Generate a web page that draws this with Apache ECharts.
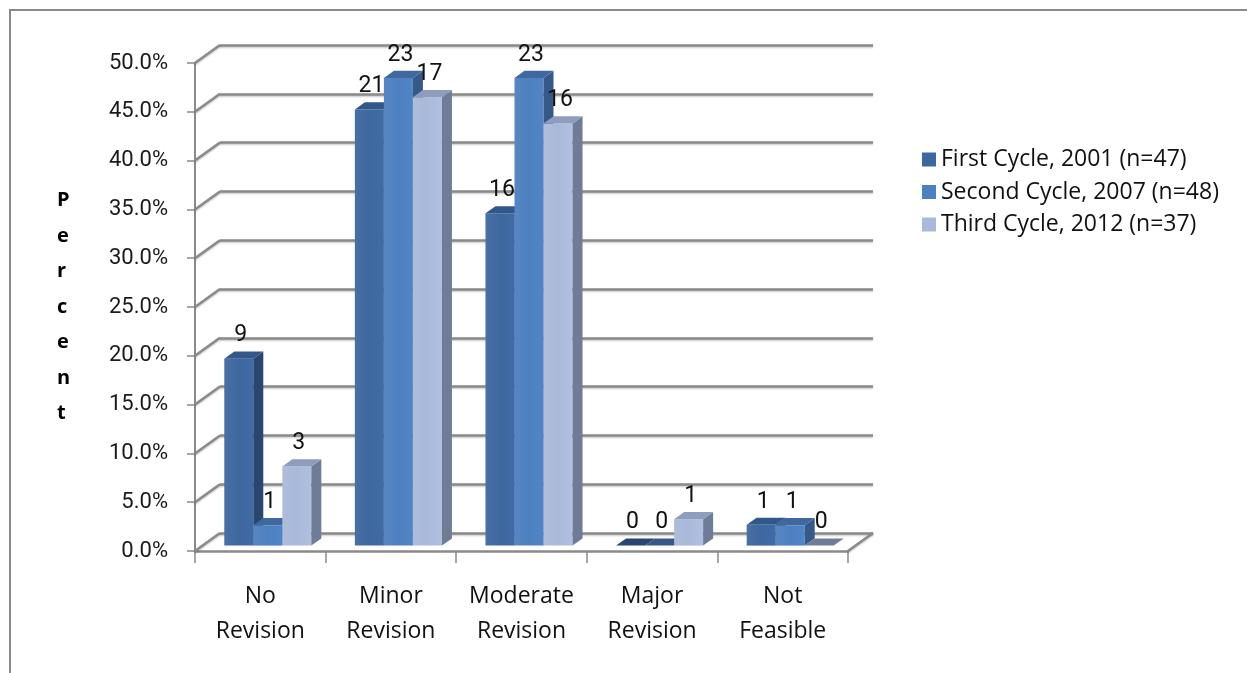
<!DOCTYPE html>
<html>
<head>
<meta charset="utf-8">
<script src="https://cdn.jsdelivr.net/npm/echarts@6/dist/echarts.min.js"></script>
<style>
  html, body { margin: 0; padding: 0; background: #fff; }
  #chart { width: 1247px; height: 673px; }
</style>
</head>
<body>
<div id="chart"></div>
<script>
// Review outcome categories
const categories = ['No\nRevision', 'Minor\nRevision', 'Moderate\nRevision', 'Major\nRevision', 'Not\nFeasible'];

// Review cycles and their number of reviewed programs
const seriesNames = ['First Cycle, 2001 (n=47)', 'Second Cycle, 2007 (n=48)', 'Third Cycle, 2012 (n=37)'];
const groupSizes = [47, 48, 37];

// Number of programs per outcome, per cycle
const firstCounts = [9, 21, 16, 0, 1];
const secondCounts = [1, 23, 23, 0, 1];
const thirdCounts = [3, 17, 16, 1, 0];

// Value axis ticks (percent)
const percentTicks = [0, 5, 10, 15, 20, 25, 30, 35, 40, 45, 50];

const countsBySeries = [firstCounts, secondCounts, thirdCounts];

// Face colours per cycle: front, top, right side
const faceColors = [
  { front: '#3e679f', top: '#32578a', side: '#2a4670' },
  { front: '#4d80bf', top: '#4068a0', side: '#37598a' },
  { front: '#a9b9d9', top: '#8e9dbd', side: '#6e7c98' }
];

// Pseudo-3D projection: depth of the plot box in pixels
const DEPTH_X = 25;
const DEPTH_Y = -18;
const BAR_FRONT = 0.3;   // bars sit between 30% and 70% of the depth
const BAR_DEPTH = 0.4;
const GRID_COLOR = '#8a8a8a';

const chart = echarts.init(document.getElementById('chart'), null, { renderer: 'canvas' });

function makeBarRenderer(seriesIdx) {
  return function (params, api) {
    const ci = api.value(0);
    const v = api.value(1);
    const count = api.value(2);
    const base = api.coord([ci, 0]);
    const top = api.coord([ci, v]);
    const catW = api.size([1, 0])[0];
    const w = catW / 4.5;
    const ox = DEPTH_X * BAR_FRONT;
    const oy = DEPTH_Y * BAR_FRONT;
    const bx = DEPTH_X * BAR_DEPTH;
    const by = DEPTH_Y * BAR_DEPTH;
    const x0 = base[0] - 1.5 * w + seriesIdx * w + ox;
    const yb = base[1] + oy;
    const yt = top[1] + oy;
    const c = faceColors[seriesIdx];
    const children = [];
    if (yb - yt > 0.5) {
      children.push({
        type: 'rect',
        shape: { x: x0, y: yt, width: w, height: yb - yt },
        style: {
          fill: new echarts.graphic.LinearGradient(0, 0, 1, 0, [
            { offset: 0, color: echarts.color.lift(c.front, 0.06) },
            { offset: 0.5, color: c.front },
            { offset: 1, color: echarts.color.lift(c.front, -0.04) }
          ])
        }
      });
      children.push({
        type: 'polygon',
        shape: { points: [[x0 + w, yt], [x0 + w + bx, yt + by], [x0 + w + bx, yb + by], [x0 + w, yb]] },
        style: { fill: c.side }
      });
    }
    children.push({
      type: 'polygon',
      shape: { points: [[x0, yt], [x0 + w, yt], [x0 + w + bx, yt + by], [x0 + bx, yt + by]] },
      style: { fill: yb - yt > 0.5 ? c.top : c.side }
    });
    children.push({
      type: 'text',
      style: {
        x: x0 + w / 2 + 2,
        y: yt - 23,
        text: String(count),
        fill: '#111',
        font: '23px Roboto',
        align: 'center',
        verticalAlign: 'middle'
      }
    });
    return { type: 'group', children: children };
  };
}

// Left side wall and floor edges, drawn from the value axis ticks
function renderWall(params, api) {
  const v = api.value(0);
  const catW = api.size([1, 0])[0];
  const pL = api.coord([0, v]);
  const xL = pL[0] - catW / 2;
  const y = pL[1];
  const lineStyle = {
    stroke: GRID_COLOR, lineWidth: 2.5,
    shadowBlur: 2, shadowColor: 'rgba(0,0,0,0.25)', shadowOffsetY: 1
  };
  const children = [{
    type: 'line',
    shape: { x1: xL, y1: y, x2: xL + DEPTH_X, y2: y + DEPTH_Y },
    style: lineStyle
  }];
  if (v === 0) {
    const pR = api.coord([categories.length - 1, 0]);
    const xR = pR[0] + catW / 2;
    children.push({
      type: 'line',
      shape: { x1: xR, y1: y, x2: xR + DEPTH_X, y2: y + DEPTH_Y },
      style: lineStyle
    });
  }
  return { type: 'group', children: children };
}

const barSeries = seriesNames.map(function (name, s) {
  return {
    name: name,
    type: 'custom',
    xAxisIndex: 0,
    yAxisIndex: 0,
    clip: false,
    z: 5,
    itemStyle: { color: faceColors[s].front },
    renderItem: makeBarRenderer(s),
    encode: { x: 0, y: 1 },
    data: countsBySeries[s].map(function (cnt, i) {
      return [i, cnt / groupSizes[s] * 100, cnt];
    })
  };
});

const option = {
  backgroundColor: '#fff',
  animation: false,
  grid: [
    { left: 195, right: 399, top: 63, bottom: 122 },   // front plane
    { left: 220, right: 374, top: 45, bottom: 140 }    // back wall
  ],
  legend: {
    orient: 'vertical',
    left: 917,
    top: 143,
    itemWidth: 14,
    itemHeight: 14,
    itemGap: 9.5,
    icon: 'rect',
    data: seriesNames,
    textStyle: { fontFamily: 'Open Sans', fontSize: 23, color: '#111', lineHeight: 20 }
  },
  xAxis: [
    {
      type: 'category',
      gridIndex: 0,
      data: categories,
      axisLine: { lineStyle: { color: GRID_COLOR, width: 2.5 } },
      axisTick: { show: true, length: 12, lineStyle: { color: GRID_COLOR, width: 1.5 } },
      axisLabel: { interval: 0, fontFamily: 'Open Sans', fontSize: 23, lineHeight: 35, margin: 28, color: '#111' },
      splitLine: { show: false }
    },
    { type: 'value', gridIndex: 1, show: false, min: 0, max: 1 }
  ],
  yAxis: [
    {
      type: 'value',
      gridIndex: 0,
      min: 0,
      max: 50,
      interval: 5,
      axisLine: { show: true, lineStyle: { color: GRID_COLOR, width: 2 } },
      axisTick: { show: true, length: 8, lineStyle: { color: GRID_COLOR, width: 1.5 } },
      axisLabel: {
        fontFamily: 'Roboto', fontSize: 22, margin: 27, color: '#1a1a1a',
        formatter: function (v) { return v.toFixed(1) + '%'; }
      },
      splitLine: { show: false }
    },
    {
      type: 'value',
      gridIndex: 1,
      min: 0,
      max: 50,
      interval: 5,
      axisLine: { show: false },
      axisTick: { show: false },
      axisLabel: { show: false },
      splitLine: {
        show: true,
        lineStyle: {
          color: GRID_COLOR, width: 2.5,
          shadowBlur: 2, shadowColor: 'rgba(0,0,0,0.25)', shadowOffsetY: 1
        }
      }
    }
  ],
  graphic: [
    {
      type: 'polyline',
      shape: { points: [[10, 673], [10, 10], [1247, 10]] },
      style: { stroke: '#8a8a8a', lineWidth: 2, fill: null }
    },
    {
      type: 'text',
      left: 57,
      top: 183,
      style: {
        text: 'P\ne\nr\nc\ne\nn\nt',
        font: 'bold 20px "Open Sans"',
        lineHeight: 35.5,
        fill: '#000',
        align: 'center'
      }
    }
  ],
  series: [
    {
      type: 'custom',
      name: 'wall',
      xAxisIndex: 0,
      yAxisIndex: 0,
      clip: false,
      z: 1,
      silent: true,
      renderItem: renderWall,
      encode: { y: 0 },
      data: percentTicks.map(function (t) { return [t]; })
    }
  ].concat(barSeries)
};

chart.setOption(option);
</script>
</body>
</html>
